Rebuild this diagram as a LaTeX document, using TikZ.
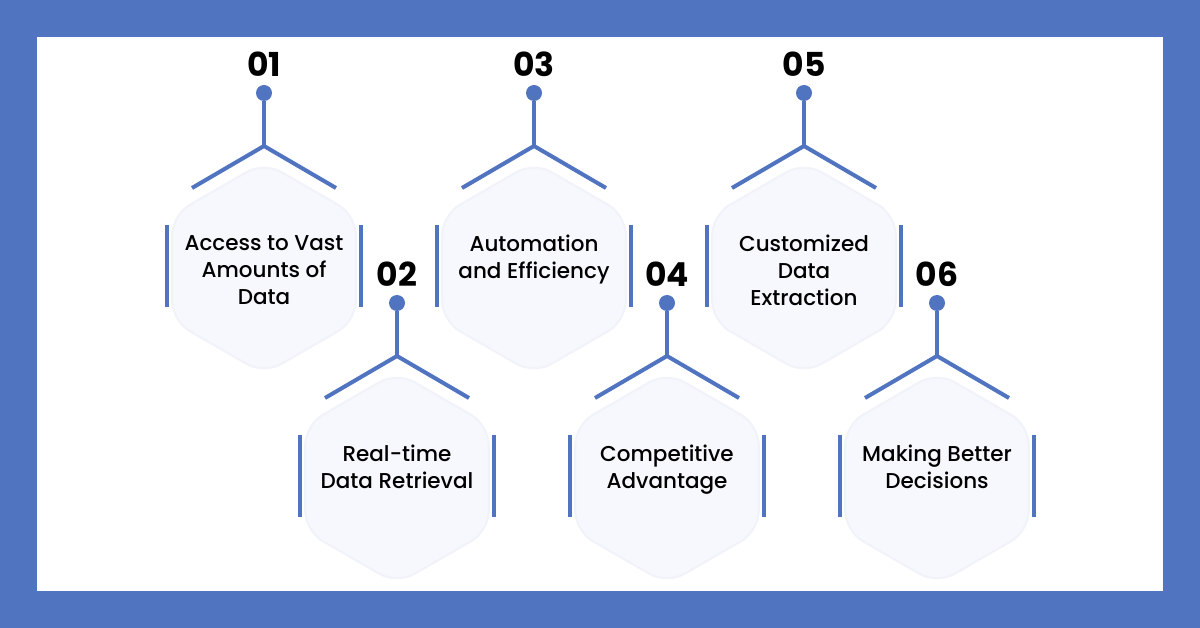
\documentclass[tikz,border=0pt]{standalone}
\usepackage{fontspec}
\setmainfont{Poppins}
\newfontfamily\itemfont{Poppins Medium}
\usetikzlibrary{shapes.geometric,positioning}
\definecolor{frameblue}{RGB}{80,116,192}
\definecolor{hexfill}{RGB}{247,248,253}
\definecolor{hexedge}{RGB}{241,243,250}

\begin{document}
\begin{tikzpicture}
	[x=1pt,y=-1pt,
	line/.style={frameblue,line width=4pt},
	hexa/.style={regular polygon,regular polygon sides=6,shape border rotate=30,minimum size=212pt,inner sep=0pt,fill=hexfill,draw=hexedge,line width=2pt,rounded corners=20pt},
	num/.style={font=\bfseries\fontsize{33}{33}\selectfont,anchor=base,inner sep=0pt},
	itemtext/.style={font=\itemfont\fontsize{21.5}{27}\selectfont,align=center,anchor=north,inner sep=0pt},
	dot/.style={circle,fill=frameblue,minimum size=16pt,inner sep=0pt}]
	\useasboundingbox (0,0) rectangle (1200,628);
	\fill[frameblue] (0,0) rectangle (1200,628);
	\fill[white] (37,37) rectangle (1163,591);
	\foreach \n/\x/\y/\txt in {01/264/0/{Access to Vast\\Amounts of\\Data},
		02/397/210/{Real-time\\Data Retrieval},
		03/534/0/{Automation\\and Efficiency},
		04/667/210/{Competitive\\Advantage},
		05/804/0/{Customized\\Data\\Extraction},
		06/937/210/{Making Better\\Decisions}}
	{
		\node[hexa] (hex\n) at (\x,268+\y) {};
		\node[itemtext] (txt\n) at (\x,235+\y) {\txt};
		\node[num] (num\n) at (\x,77+\y) {\n};
		\node[dot] (dot\n) at (\x,93+\y) {};
		\coordinate (apex\n) at (\x,146+\y);
		\coordinate (armL\n) at (\x-72,188+\y);
		\coordinate (armR\n) at (\x+72,188+\y);
		\coordinate (barLtop\n) at (\x-97,225+\y);
		\coordinate (barLbot\n) at (\x-97,307+\y);
		\coordinate (barRtop\n) at (\x+97,225+\y);
		\coordinate (barRbot\n) at (\x+97,307+\y);
		\draw[line] (dot\n) -- (apex\n);
		\draw[line] (armL\n) -- (apex\n) -- (armR\n);
		\draw[line] (barLtop\n) -- (barLbot\n);
		\draw[line] (barRtop\n) -- (barRbot\n);
	}
\end{tikzpicture}
\end{document}
